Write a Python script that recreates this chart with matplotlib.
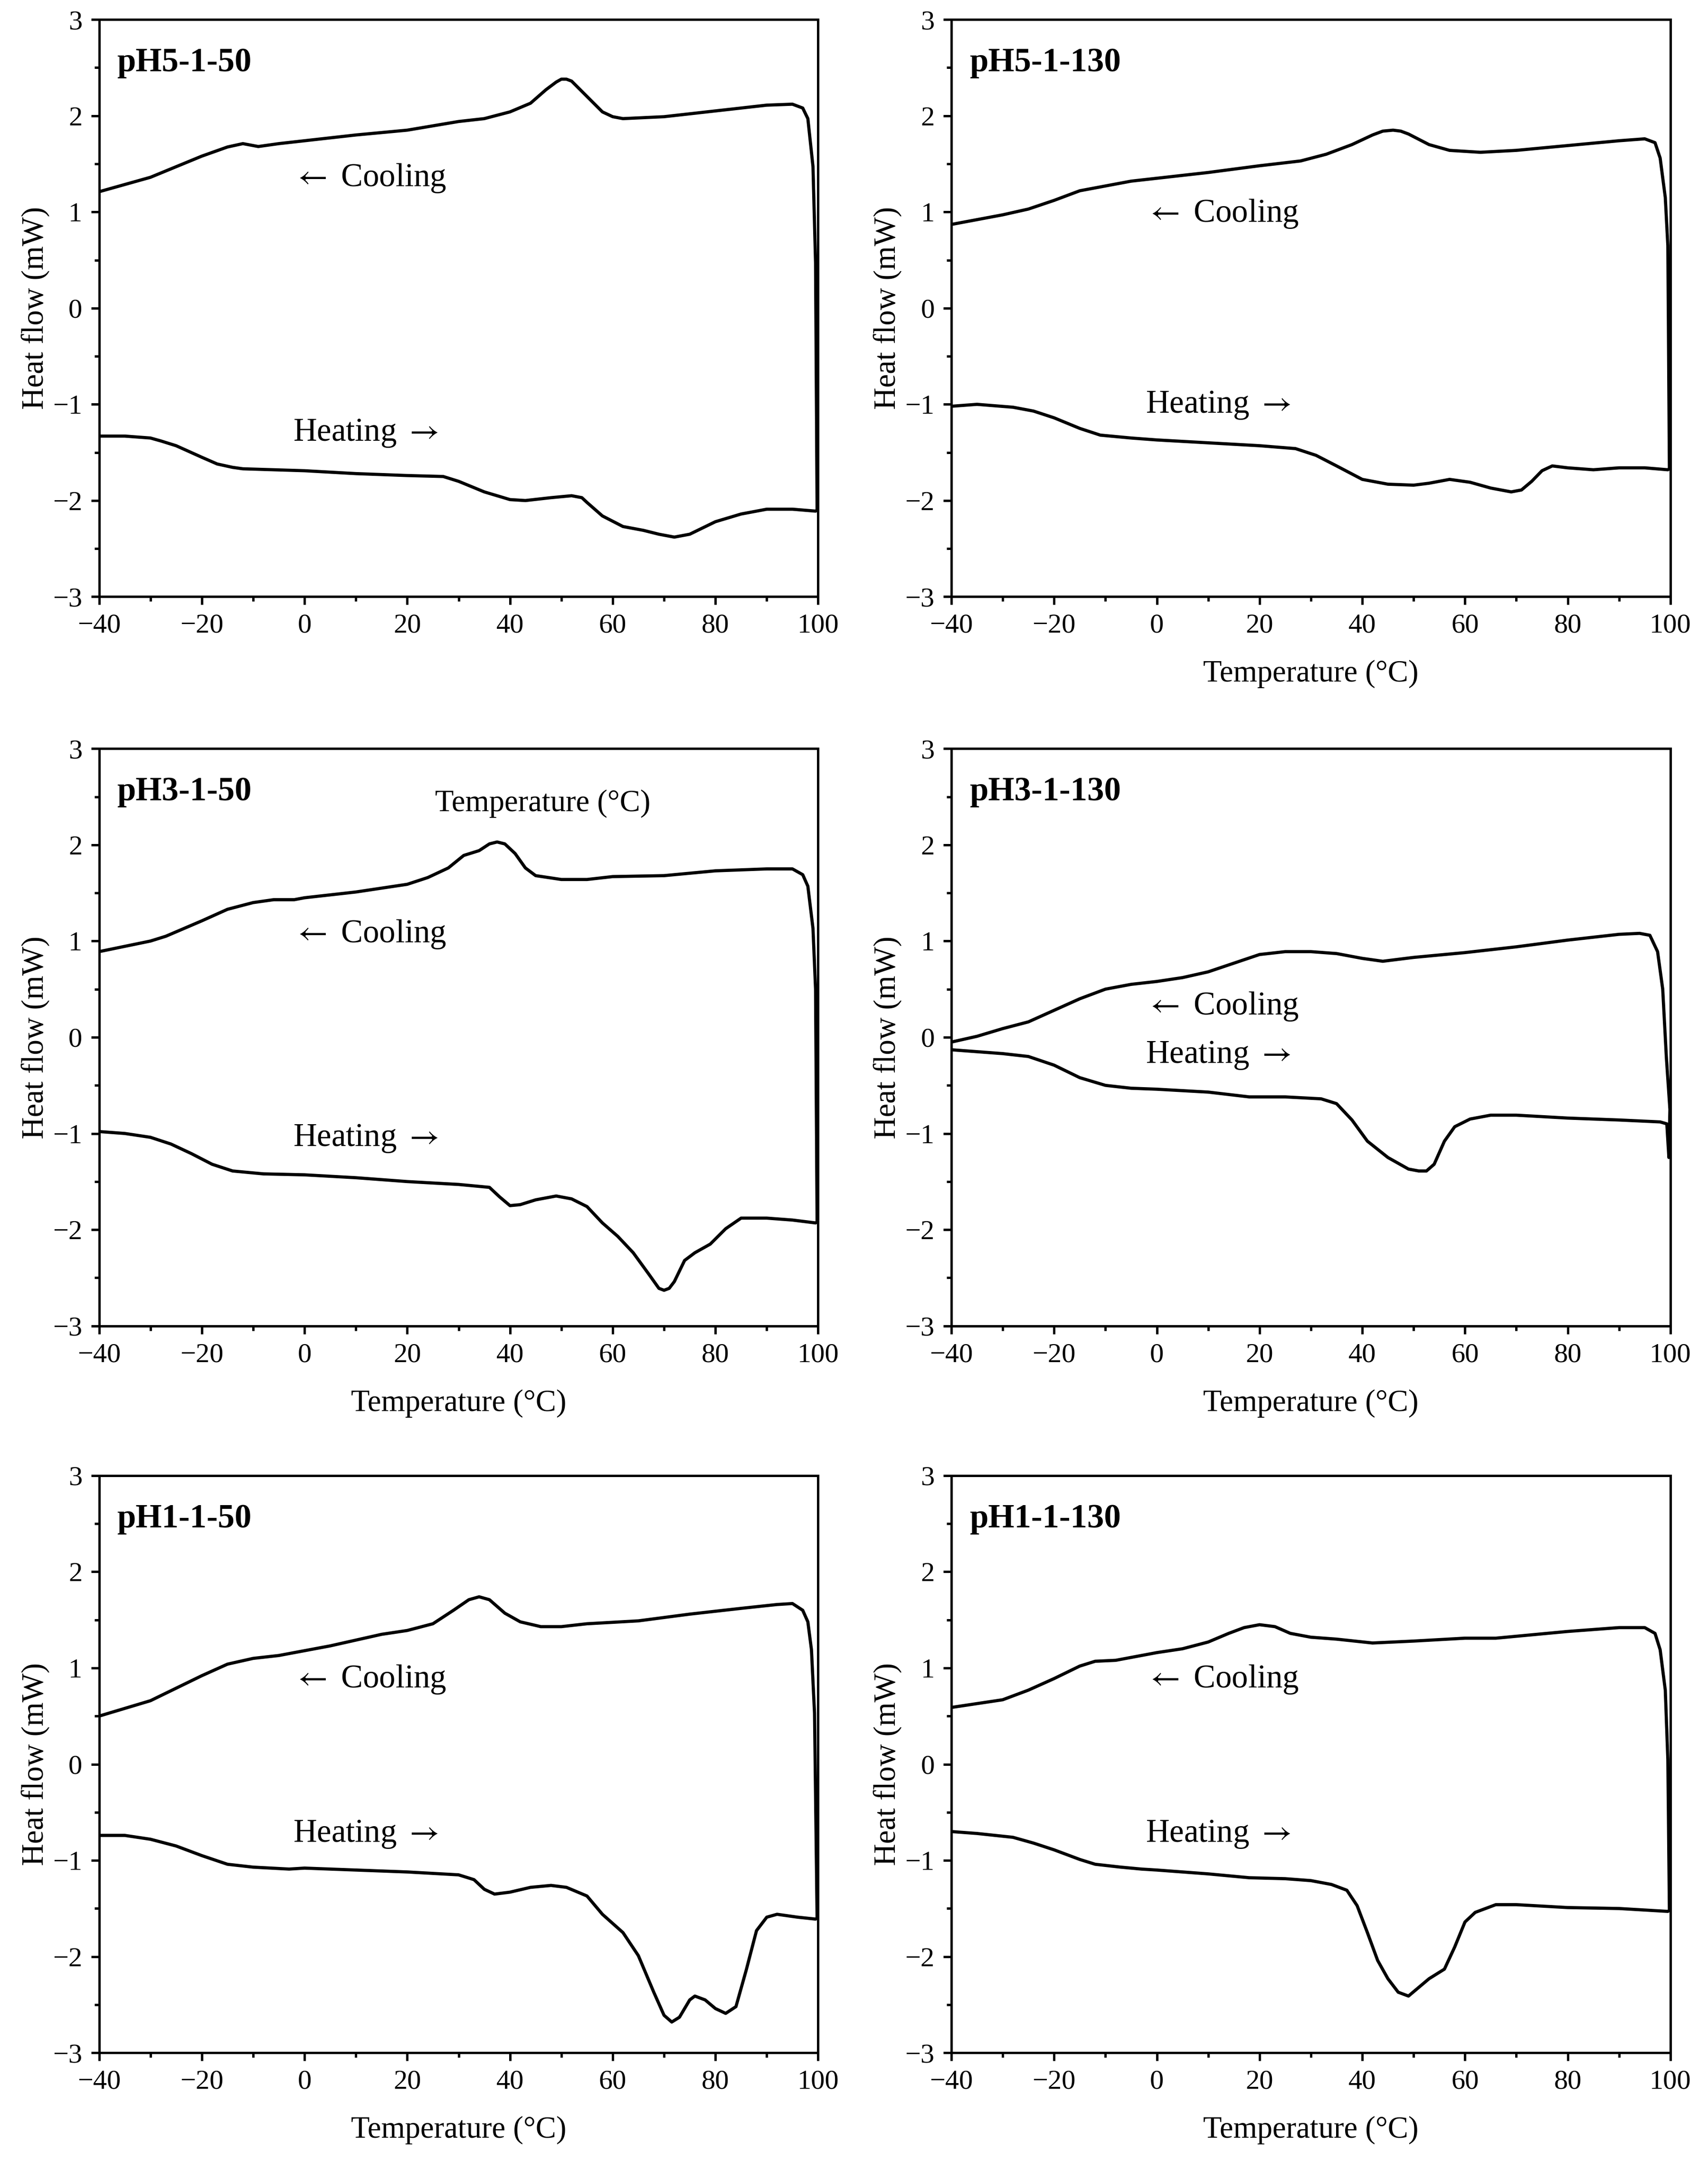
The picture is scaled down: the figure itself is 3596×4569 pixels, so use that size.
import numpy as np
import matplotlib.pyplot as plt
from matplotlib.ticker import MultipleLocator

plt.rcParams['font.family'] = ['Liberation Serif', 'DejaVu Serif']
plt.rcParams['mathtext.fontset'] = 'stix'

# ---- data (temperature in C, heat flow in mW) ----
# pH5-1-50
h1_x = [-40, -35, -30, -28, -25, -20, -17, -14, -12, 0, 10, 20, 27, 30, 35, 40, 43, 48, 52, 54, 55, 58, 62, 66, 69, 72, 75, 80, 85, 90, 95, 99.5, 99.8]
h1_y = [-1.33, -1.33, -1.35, -1.38, -1.43, -1.55, -1.62, -1.655, -1.67, -1.69, -1.72, -1.74, -1.75, -1.80, -1.91, -1.99, -2.00, -1.97, -1.95, -1.97, -2.02, -2.16, -2.27, -2.31, -2.35, -2.38, -2.35, -2.22, -2.14, -2.09, -2.09, -2.11, -2.10]
c1_x = [-40, -30, -20, -15, -12, -9, -5, 0, 10, 20, 30, 35, 40, 44, 47, 49, 50, 51, 52, 55, 58, 60, 62, 70, 80, 90, 95, 97, 98, 99, 99.5]
c1_y = [1.21, 1.36, 1.58, 1.675, 1.71, 1.68, 1.71, 1.74, 1.80, 1.85, 1.94, 1.97, 2.04, 2.13, 2.27, 2.35, 2.38, 2.38, 2.36, 2.20, 2.04, 1.99, 1.97, 1.99, 2.05, 2.11, 2.12, 2.08, 1.97, 1.47, 0.47]

# pH5-1-130
h2_x = [-40, -35, -28, -24, -20, -15, -11, -5, 0, 10, 20, 27, 31, 35, 40, 45, 50, 53, 57, 61, 65, 69, 71, 73, 75, 77, 80, 85, 90, 95, 99.5, 99.8]
h2_y = [-1.02, -1.00, -1.03, -1.07, -1.14, -1.25, -1.32, -1.35, -1.37, -1.40, -1.43, -1.46, -1.53, -1.64, -1.78, -1.83, -1.84, -1.82, -1.78, -1.81, -1.87, -1.91, -1.89, -1.80, -1.69, -1.64, -1.66, -1.68, -1.66, -1.66, -1.68, -1.67]
c2_x = [-40, -30, -25, -20, -15, -10, -5, 0, 10, 20, 28, 33, 38, 42, 44, 46, 47.5, 49, 53, 57, 63, 70, 80, 90, 95, 97, 98, 99, 99.5]
c2_y = [0.87, 0.97, 1.03, 1.12, 1.22, 1.27, 1.32, 1.35, 1.41, 1.48, 1.53, 1.60, 1.70, 1.80, 1.84, 1.85, 1.84, 1.81, 1.70, 1.64, 1.62, 1.64, 1.69, 1.74, 1.76, 1.72, 1.56, 1.15, 0.65]

# pH3-1-50
h3_x = [-40, -35, -30, -26, -22, -18, -14, -8, 0, 10, 20, 30, 36, 38, 40, 42, 45, 49, 52, 55, 58, 61, 64, 67, 69, 70, 71, 72, 74, 76, 79, 82, 85, 90, 95, 99.5, 99.8]
h3_y = [-0.98, -1.00, -1.04, -1.11, -1.21, -1.32, -1.39, -1.42, -1.43, -1.46, -1.50, -1.53, -1.56, -1.66, -1.75, -1.74, -1.69, -1.65, -1.68, -1.76, -1.93, -2.07, -2.24, -2.46, -2.61, -2.63, -2.61, -2.54, -2.32, -2.24, -2.15, -1.99, -1.88, -1.88, -1.90, -1.93, -1.92]
c3_x = [-40, -30, -27, -20, -15, -10, -6, -2, 0, 10, 20, 24, 28, 31, 34, 36, 37.5, 39, 41, 43, 45, 50, 55, 60, 70, 80, 90, 95, 97, 98, 99, 99.5]
c3_y = [0.89, 1.00, 1.05, 1.21, 1.33, 1.40, 1.43, 1.43, 1.45, 1.51, 1.59, 1.66, 1.76, 1.89, 1.94, 2.01, 2.03, 2.01, 1.91, 1.76, 1.68, 1.64, 1.64, 1.67, 1.68, 1.73, 1.75, 1.75, 1.69, 1.57, 1.13, 0.50]

# pH3-1-130
h4_x = [-40, -30, -25, -20, -15, -10, -5, 0, 10, 18, 25, 32, 35, 38, 41, 45, 49, 51, 52.5, 54, 56, 58, 61, 65, 70, 80, 90, 98, 99.3, 99.7, 99.9]
h4_y = [-0.13, -0.17, -0.20, -0.29, -0.42, -0.50, -0.53, -0.54, -0.57, -0.62, -0.62, -0.64, -0.69, -0.86, -1.08, -1.25, -1.37, -1.39, -1.39, -1.32, -1.08, -0.93, -0.85, -0.81, -0.81, -0.84, -0.86, -0.88, -0.90, -1.25, -0.75]
c4_x = [-40, -35, -30, -25, -20, -15, -10, -5, 0, 5, 10, 15, 20, 25, 30, 35, 40, 44, 50, 60, 70, 80, 90, 94, 96, 97.5, 98.5, 99.2]
c4_y = [-0.05, 0.01, 0.09, 0.16, 0.28, 0.40, 0.50, 0.55, 0.58, 0.62, 0.68, 0.77, 0.86, 0.89, 0.89, 0.87, 0.82, 0.79, 0.83, 0.88, 0.94, 1.01, 1.07, 1.08, 1.06, 0.89, 0.50, -0.20]

# pH1-1-50
h5_x = [-40, -35, -30, -25, -20, -15, -10, -3, 0, 10, 20, 30, 33, 35, 37, 40, 44, 48, 51, 55, 58, 62, 65, 68, 70, 71.5, 73, 75, 76, 78, 80, 82, 84, 86, 88, 90, 92, 96, 99.5, 99.8]
h5_y = [-0.74, -0.74, -0.78, -0.85, -0.95, -1.04, -1.07, -1.09, -1.08, -1.10, -1.12, -1.15, -1.20, -1.30, -1.35, -1.33, -1.28, -1.26, -1.28, -1.37, -1.56, -1.75, -1.99, -2.37, -2.61, -2.68, -2.63, -2.45, -2.41, -2.45, -2.54, -2.59, -2.52, -2.14, -1.73, -1.59, -1.56, -1.59, -1.61, -1.60]
c5_x = [-40, -30, -25, -20, -15, -10, -5, 0, 5, 10, 15, 20, 25, 29, 32, 34, 36, 39, 42, 46, 50, 55, 65, 75, 85, 92, 95, 97, 98, 98.7, 99.3]
c5_y = [0.50, 0.66, 0.79, 0.92, 1.04, 1.10, 1.13, 1.18, 1.23, 1.29, 1.35, 1.39, 1.46, 1.60, 1.71, 1.74, 1.71, 1.57, 1.48, 1.43, 1.43, 1.46, 1.49, 1.56, 1.62, 1.66, 1.67, 1.60, 1.48, 1.19, 0.53]

# pH1-1-130
h6_x = [-40, -35, -28, -24, -20, -15, -12, -7, -3, 0, 10, 18, 25, 30, 34, 37, 39, 41, 43, 45, 47, 49, 51, 53, 56, 58, 60, 62, 66, 70, 80, 90, 99.5, 99.8]
h6_y = [-0.70, -0.72, -0.76, -0.82, -0.89, -0.99, -1.04, -1.07, -1.09, -1.10, -1.14, -1.18, -1.19, -1.21, -1.25, -1.31, -1.47, -1.75, -2.04, -2.23, -2.37, -2.41, -2.32, -2.23, -2.13, -1.90, -1.64, -1.54, -1.46, -1.46, -1.49, -1.50, -1.53, -1.52]
c6_x = [-40, -30, -25, -20, -15, -12, -8, -4, 0, 5, 10, 14, 17, 20, 23, 26, 30, 35, 42, 50, 60, 66, 72, 80, 90, 95, 97, 98, 99, 99.5]
c6_y = [0.59, 0.67, 0.77, 0.89, 1.02, 1.07, 1.08, 1.12, 1.16, 1.20, 1.27, 1.36, 1.42, 1.45, 1.43, 1.36, 1.32, 1.30, 1.26, 1.28, 1.31, 1.31, 1.34, 1.38, 1.42, 1.42, 1.36, 1.19, 0.77, 0.05]

labels = ['pH5-1-50', 'pH5-1-130', 'pH3-1-50', 'pH3-1-130', 'pH1-1-50', 'pH1-1-130']
heat = [(h1_x, h1_y), (h2_x, h2_y), (h3_x, h3_y), (h4_x, h4_y), (h5_x, h5_y), (h6_x, h6_y)]
cool = [(c1_x, c1_y), (c2_x, c2_y), (c3_x, c3_y), (c4_x, c4_y), (c5_x, c5_y), (c6_x, c6_y)]
cool_text_y = [1.35, 0.98, 1.07, 0.32, 0.88, 0.88]
heat_text_y = [-1.30, -1.01, -1.05, -0.19, -0.73, -0.73]

fig = plt.figure(figsize=(3596 / 300, 4569 / 300), dpi=300)

col_left = [0.058, 0.557]
row_bottom = [0.725, 0.389, 0.054]
w, h = 0.421, 0.266

for i in range(6):
    r, c = divmod(i, 2)
    ax = fig.add_axes([col_left[c], row_bottom[r], w, h])
    hx, hy = heat[i]
    cx, cy = cool[i]
    x = np.concatenate([hx, cx[::-1]])
    y = np.concatenate([hy, cy[::-1]])
    ax.plot(x, y, color='black', lw=1.6, solid_joinstyle='round')

    ax.set_xlim(-40, 100)
    ax.set_ylim(-3, 3)
    ax.xaxis.set_major_locator(MultipleLocator(20))
    ax.xaxis.set_minor_locator(MultipleLocator(10))
    ax.yaxis.set_major_locator(MultipleLocator(1))
    ax.yaxis.set_minor_locator(MultipleLocator(0.5))
    ax.tick_params(which='major', direction='out', length=4, width=1.2, labelsize=14, pad=4.5)
    ax.tick_params(which='minor', direction='out', length=2.3, width=1.2)
    for s in ax.spines.values():
        s.set_linewidth(1.2)

    ax.set_ylabel('Heat flow (mW)', fontsize=15.5, labelpad=1.5)
    if i != 0:
        ax.set_xlabel('Temperature (°C)', fontsize=15.5, labelpad=11)

    ax.text(-36.5, 2.55, labels[i], fontsize=17, fontweight='bold', va='center', ha='left')
    ax.text(-2.2, cool_text_y[i], r'$\leftarrow$ Cooling', fontsize=16.5, va='center', ha='left')
    ax.text(-2.2, heat_text_y[i], r'Heating $\rightarrow$', fontsize=16.5, va='center', ha='left')

# stray axis title sitting inside the pH3-1-50 panel in the original
fig.axes[2].text(46.4, 2.43, 'Temperature (°C)', fontsize=15.5, va='center', ha='center')

fig.savefig('out.png', dpi=300)
